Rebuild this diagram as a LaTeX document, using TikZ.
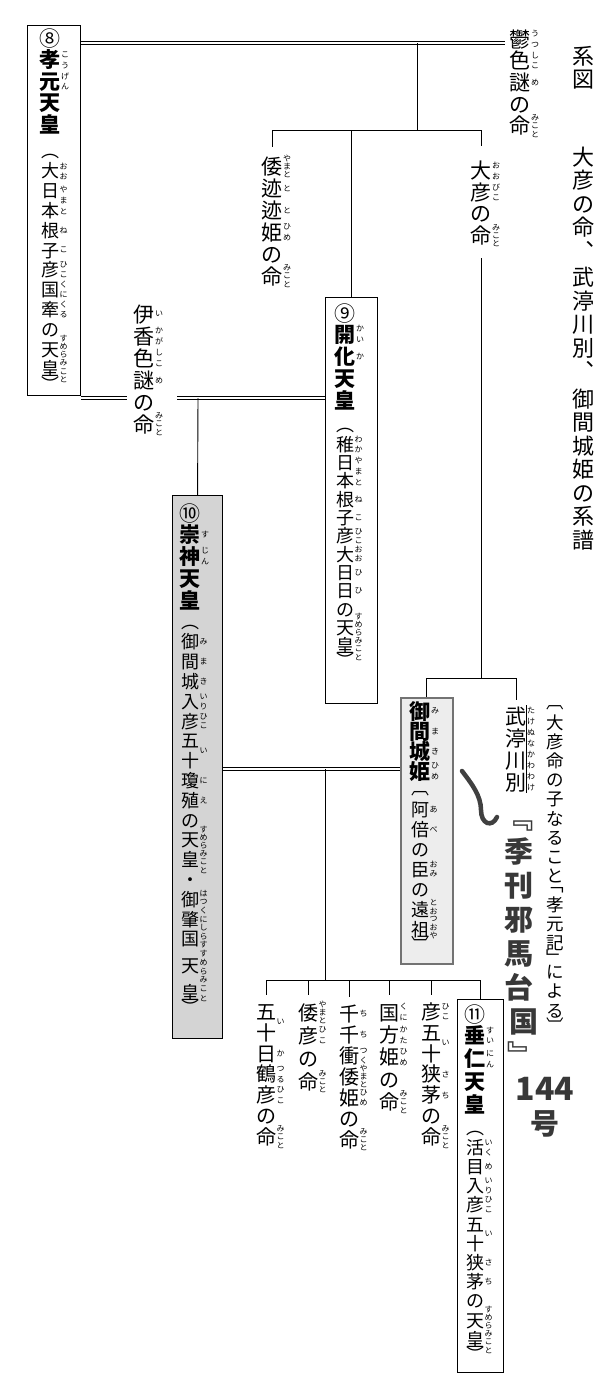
\documentclass[tikz,border=0pt]{standalone}
\usepackage{fontspec}
\setmainfont{Noto Sans CJK JP}
\usetikzlibrary{calc}

% vertical setting: one cell per character, ruby stacked to the right
\makeatletter
\newdimen\tpitch \tpitch=20pt
\newdimen\tcolw \tcolw=22pt
\newdimen\rpitch \rpitch=11pt
\newdimen\rmin \rmin=8.2pt
\newdimen\rgap \rgap=0.6pt
\newdimen\rbh \newdimen\rbp
\newcount\rcnt
\newcommand\rubyfont{\fontsize{8pt}{8pt}\selectfont\mdseries}
\newcommand\jnm{\fontsize{21pt}{21pt}\selectfont\mdseries}
\newcommand\jem{\fontsize{21pt}{21pt}\selectfont\bfseries}
\newcommand\jpa{\fontsize{18pt}{18pt}\selectfont\mdseries}
\newcommand\jcn{\fontsize{21pt}{21pt}\selectfont\mdseries}
\newcommand\jch{\fontsize{20pt}{20pt}\selectfont\mdseries}
\newcommand\jnt{\fontsize{17.5pt}{17.5pt}\selectfont\mdseries}
\newcommand\jti{\fontsize{22pt}{22pt}\selectfont\mdseries}
\newcommand\jhw{\fontsize{29pt}{29pt}\selectfont\bfseries}
\newcommand\tcell[1]{\vbox to\tpitch{\vss\hbox to\z@{\hss\vrule height.88em depth.12em width\z@\relax#1\hss}\vss}}
\newcommand\hc[1]{\vbox to.5\tpitch{\vss\hbox to\z@{\hss#1\hss}\vss}}
\newcommand\tsh[2]{\tcell{\kern#1\kern#1 #2}}
\def\tset#1#2{#1\tpitch=#2\relax}
\def\tskip#1;{\vskip#1\relax}
\def\tpipe#1|#2|#3\@nil{\ifx\relax#2\relax\tcell{#1}\else\rb{#1}{#2}\fi}
\def\titem#1#2\@nil{\ifcat\noexpand#1\relax\def\tnext{#1#2}\else\def\tnext{\tpipe#1#2||\@nil}\fi\tnext}
\newcommand\tstack[1]{\vbox{\offinterlineskip\@tfor\t@c:=#1\do{\expandafter\titem\t@c\@nil}}}
\newcommand\tcol[1]{\hbox to\tcolw{\hss\tstack{#1}\hss}}
\newcommand\rstack[1]{\vbox{\offinterlineskip\rubyfont\@tfor\r@c:=#1\do{\vbox to\rbp{\vss\hbox{\r@c}\vss}}}}
\newcommand\rb[2]{\hbox{\setbox\z@\tstack{#1}\rbh=\ht\z@
  \rcnt\z@\@tfor\r@c:=#2\do{\advance\rcnt\@ne}%
  \rbp=\rpitch \dimen@=\rpitch \multiply\dimen@\rcnt
  \ifdim\dimen@>\rbh \rbp=\rbh \divide\rbp\rcnt \fi
  \ifdim\rbp<\rmin \rbp=\rmin \fi
  \box\z@\rlap{\kern.5em\kern\rgap\vbox to\rbh{\vss\rstack{#2}\vss}}}}
\makeatother

\tikzset{
  col/.style={inner sep=0pt, anchor=north},
  ebox/.style={draw, line width=1.1pt, inner sep=0pt, anchor=north west, fill=white},
  gbox/.style={ebox, fill=black!17},
  lbox/.style={ebox, draw=black!55, line width=1.6pt, fill=black!7},
  ln/.style={line width=0.9pt},
  dbl/.style={line width=4pt, draw=black, postaction={draw=white, line width=1.8pt}},
  hwline/.style={line width=4.5pt, line cap=round, draw=black!75}
}

\begin{document}
\begin{tikzpicture}[x=1pt,y=-1pt]
  \fill[white] (0,0) rectangle (600,1385);
  \useasboundingbox (0,0) rectangle (600,1385);

  % emperor boxes
  \node[ebox, minimum width=53pt, minimum height=370pt] (kogen) at (27,25) {};
  \node[ebox, minimum width=52pt, minimum height=406pt] (kaika) at (325,297) {};
  \node[gbox, minimum width=50pt, minimum height=543pt] (sujin) at (172,495) {};
  \node[lbox, minimum width=52pt, minimum height=266pt] (mimaki) at (400,697) {};
  \node[ebox, minimum width=46pt, minimum height=373pt] (suinin) at (457,999) {};

  \node[col] (kogentx) at ([xshift=23pt,yshift=-3pt]kogen.north west) {\tcol{{\tset\jcn{21pt}}⑧{\tset\jem{21.5pt}}{孝|こう}{元|げん}天皇{\tskip 16pt;}{\tset\jpa{19.8pt}}{\hc︵}{大|おお}{日本|やまと}{根|ね}{子|こ}{彦|ひこ}{国|くに}{牽|くる}の{天皇|すめらみこと}{\hc︶}}};
  \node[col] (kaikatx) at ([xshift=20pt,yshift=-7pt]kaika.north west) {\tcol{{\tset\jcn{19pt}}⑨{\tset\jem{22pt}}{開|かい}{化|か}天皇{\tskip 15pt;}{\tset\jpa{18.3pt}}{\hc︵}{稚|わか}{日本|やまと}{根|ね}{子|こ}{彦|ひこ}{大|おお}{日|ひ}{日|ひ}の{天皇|すめらみこと}{\hc︶}}};
  \node[col] (sujintx) at ([xshift=18pt,yshift=-9pt]sujin.north west) {\tcol{{\tset\jcn{19pt}}⑩{\tset\jem{22pt}}{崇|す}{神|じん}天皇{\tskip 11pt;}{\tset\jpa{19.8pt}}{\hc︵}{御|み}{間|ま}{城|き}{入|いり}{彦|ひこ}{五十|い}{瓊|に}{殖|え}の{天皇|すめらみこと}・{御肇国|はつくにしらす}{\rb{{\tskip 7pt;}天{\tskip 7pt;}皇}{すめらみこと}}{\hc︶}}};
  \node[col] (mimakitx) at ([xshift=20pt,yshift=-4pt]mimaki.north west) {\tcol{{\tset\jem{20pt}}{御|み}{間|ま}{城|き}{姫|ひめ}{\tskip 8pt;}{\tset\jpa{20pt}}{\hc︹}{阿|あ}{倍|べ}の{臣|おみ}の{遠祖|とおつおや}{\hc︺}}};
  \node[col] (suinintx) at ([xshift=18pt,yshift=-6pt]suinin.north west) {\tcol{{\tset\jcn{19pt}}⑪{\tset\jem{23pt}}{垂|すい}{仁|にん}天皇{\tskip 12pt;}{\tset\jpa{19.2pt}}{\hc︵}{活|いく}{目|め}{入|いり}{彦|ひこ}{五十|い}{狭|さ}{茅|ち}の{天皇|すめらみこと}{\hc︶}}};

  % other persons
  \node[col] (utsu) at (520,28) {\tcol{{\tset\jnm{21.7pt}}{鬱|うつ}{色|しこ}{謎|め}の{命|みこと}}};
  \node[col] (ohiko) at (481,160) {\tcol{{\tset\jnm{21.5pt}}{大|おお}{彦|びこ}の{命|みこと}}};
  \node[col] (yamato) at (272,155) {\tcol{{\tset\jnm{22pt}}{倭|やまと}{迹|と}{迹|と}{姫|ひめ}の{命|みこと}}};
  \node[col] (ikaga) at (144,303) {\tcol{{\tset\jnm{22pt}}{伊|い}{香|かが}{色|しこ}{謎|め}の{命|みこと}}};
  \node[col] (takenu) at (516,705) {\tcol{{\tset\jnm{22pt}}{武|たけ}{渟|ぬな}{川|かわ}{別|わけ}}};

  % children of sujin
  \node[col] (itsuka) at (266,1001) {\tcol{{\tset\jch{20.9pt}}{五十|い}{日|か}{鶴彦|つるひこ}の{命|みこと}}};
  \node[col] (yamatohiko) at (308,1001) {\tcol{{\tset\jch{23pt}}{倭|やまと}{彦|ひこ}の{命|みこと}}};
  \node[col] (chichi) at (349,1003) {\tcol{{\tset\jch{21pt}}{千|ち}{千|ち}{衝|つく}{倭|やまと}{姫|ひめ}の{命|みこと}}};
  \node[col] (kunikata) at (389,1001) {\tcol{{\tset\jch{22.4pt}}{国|くに}{方|かた}{姫|ひめ}の{命|みこと}}};
  \node[col] (hikoisachi) at (431,1001) {\tcol{{\tset\jch{20.9pt}}{彦|ひこ}{五十|い}{狭|さ}{茅|ち}の{命|みこと}}};

  % title and notes
  \node[col] (title) at (583,44) {\tcol{{\tset\jti{23.5pt}}系図{\tskip 54pt;}大彦の命︑{\tskip 3pt;}武渟川別︑{\tskip 4pt;}御間城姫の系譜}};
  \node[col] (note) at (555,703) {\tcol{{\tset\jnt{19.2pt}}{\hc︹}大彦命の子なること{\hc﹁}孝元記{\hc﹂}による{\hc︺}}};
  \node[col, text=black!78] (hand) at (519,800) {\tcol{{\tset\jhw{34pt}}﹃季刊邪馬台{\tsh{5pt}{国}}{\tsh{3pt}{﹄}}{\tsh{26pt}{\fontsize{32pt}{32pt}\selectfont 144}}{\tsh{26pt}{号}}}};
  \draw[hwline] (462,771) .. controls (472,784) and (481,796) .. (481,810) .. controls (481,824) and (492,828) .. (497,817);

  % marriage lines
  \coordinate (m1) at (417,43);
  \coordinate (h1) at (417,130);
  \coordinate (h2) at (481,678);
  \coordinate (h3) at (198,398);
  \coordinate (h4) at (325,769);
  \coordinate (h5) at (325,980);
  \draw[dbl] (kogen.east |- m1) -- ([xshift=-4pt]utsu.west |- m1);
  \draw[dbl] (kogen.east |- h3) -- ([xshift=-6pt]ikaga.west |- h3);
  \draw[dbl] ([xshift=22pt]ikaga.east |- h3) -- (kaika.west |- h3);
  \draw[dbl] (sujin.east |- h4) -- (mimaki.west |- h4);

  % descent lines
  \draw[ln] (m1) -- (h1);
  \draw[ln] (yamato.north |- h1) -- (ohiko.north |- h1);
  \draw[ln, shorten >=8pt] (yamato.north |- h1) -- (yamato.north);
  \draw[ln] (kaika.north |- h1) -- (kaika.north);
  \draw[ln, shorten >=14pt] (ohiko.north |- h1) -- (ohiko.north);
  \draw[ln, shorten <=12pt] (ohiko.south) -- (h2);
  \draw[ln] (mimaki.north |- h2) -- (takenu.north |- h2);
  \draw[ln] (mimaki.north |- h2) -- (mimaki.north);
  \draw[ln, shorten >=5pt] (takenu.north |- h2) -- (takenu.north);
  \draw[line width=0.8pt] ([xshift=-0.5pt]takenu.north east) -- ([xshift=-0.5pt]takenu.south east);
  \draw[ln] (h3) -- (sujin.north);
  \draw[ln] (h4) -- (h5);
  \draw[ln] (itsuka.north |- h5) -- (suinin.north |- h5);
  \foreach \c in {itsuka,yamatohiko,chichi,kunikata,hikoisachi}
    \draw[ln, shorten >=6pt] (\c.north |- h5) -- (\c.north);
  \draw[ln] (suinin.north |- h5) -- (suinin.north);
\end{tikzpicture}
\end{document}
